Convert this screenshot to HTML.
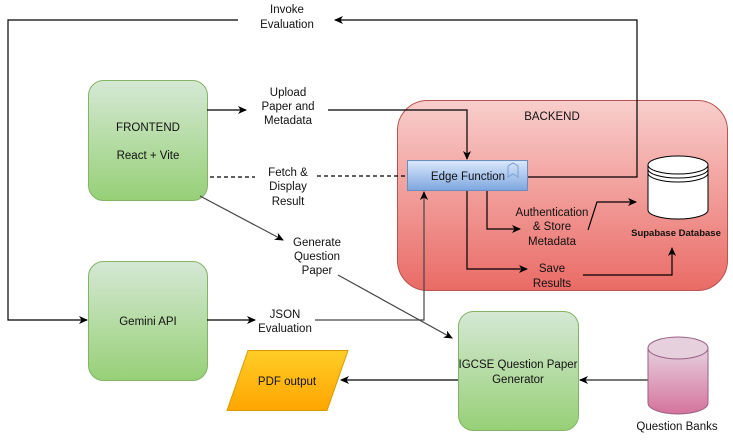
<!DOCTYPE html>
<html><head><meta charset="utf-8"><style>
body{margin:0;background:#fff;}
svg text{font-family:"Liberation Sans",Arial,sans-serif;font-size:11.5px;fill:#111;}
</style></head><body>
<svg width="733" height="440" viewBox="0 0 733 440" xmlns="http://www.w3.org/2000/svg">
<defs>
<linearGradient id="g" x1="0" y1="0" x2="0" y2="1"><stop offset="0" stop-color="#d5e8d4"/><stop offset="1" stop-color="#97d077"/></linearGradient>
<linearGradient id="r" x1="0" y1="0" x2="0" y2="1"><stop offset="0" stop-color="#f8cecc"/><stop offset="1" stop-color="#ea6b66"/></linearGradient>
<linearGradient id="b" x1="0" y1="0" x2="0" y2="1"><stop offset="0" stop-color="#dae8fc"/><stop offset="1" stop-color="#7ea6e0"/></linearGradient>
<linearGradient id="o" x1="0" y1="0" x2="0" y2="1"><stop offset="0" stop-color="#ffcd28"/><stop offset="1" stop-color="#ffa500"/></linearGradient>
<linearGradient id="p" x1="0" y1="0" x2="0" y2="1"><stop offset="0" stop-color="#e6d0de"/><stop offset="1" stop-color="#d5739d"/></linearGradient>
<marker id="a" markerWidth="10" markerHeight="10" refX="8" refY="5" orient="auto" markerUnits="userSpaceOnUse"><path d="M0,1 L9,5 L0,9 L2.5,5 Z" fill="#000"/></marker>
</defs>
<rect x="397.5" y="100.5" width="330" height="190" rx="30" fill="url(#r)" stroke="#b85450"/>
<text x="552" y="120" text-anchor="middle">BACKEND</text>
<rect x="88.5" y="80.5" width="119" height="120" rx="15" fill="url(#g)" stroke="#82b366"/>
<text x="148" y="131" text-anchor="middle">FRONTEND</text>
<text x="148" y="159" text-anchor="middle">React + Vite</text>
<rect x="88.5" y="261.5" width="119" height="119" rx="15" fill="url(#g)" stroke="#82b366"/>
<text x="148" y="325" text-anchor="middle">Gemini API</text>
<rect x="458.5" y="311.5" width="120" height="119" rx="15" fill="url(#g)" stroke="#82b366"/>
<text x="518" y="368" text-anchor="middle">IGCSE Question Paper</text>
<text x="518" y="383" text-anchor="middle">Generator</text>
<polygon points="248,350.5 348,350.5 327,410.5 227,410.5" fill="url(#o)" stroke="#d79b00"/>
<text x="287" y="385" text-anchor="middle">PDF output</text>
<rect x="407.5" y="160.5" width="120" height="30" fill="url(#b)" stroke="#6c8ebf"/>
<text x="468" y="180" text-anchor="middle">Edge Function</text>
<path d="M508,166 l5,-3 l5,3 v11 l-5,-3 l-5,3 z" fill="none" stroke="#7a9fd0"/>
<path d="M648,165 v45 a30,9 0 0 0 60,0 v-45" fill="#fff" stroke="#000"/>
<ellipse cx="678" cy="165" rx="30" ry="9" fill="#fff" stroke="#000"/>
<path d="M648,169 a30,9 0 0 0 60,0 M648,173 a30,9 0 0 0 60,0" fill="none" stroke="#000"/>
<text x="676" y="236" text-anchor="middle" style="font-size:9.5px;font-weight:bold">Supabase Database</text>
<path d="M648,348 v55 a30,11 0 0 0 60,0 v-55" fill="url(#p)" stroke="#996185"/>
<ellipse cx="678" cy="348" rx="30" ry="11" fill="#e6d0de" stroke="#996185"/>
<text x="677" y="430" text-anchor="middle">Question Banks</text>
<g fill="none" stroke="#000" stroke-width="1.2">
<path d="M528,177 H637 V20 H335" marker-end="url(#a)"/>
<path d="M238,20 H8 V320 H87" marker-end="url(#a)"/>
<path d="M207,110 H246" marker-end="url(#a)"/>
<path d="M328,110 H467 V159" marker-end="url(#a)"/>
<path d="M210,177 H255 M317,176 H407" stroke-dasharray="4,3"/>
<path d="M207,320 H255" marker-end="url(#a)"/>
<path d="M315,320 H424 V192" marker-end="url(#a)" stroke="#444"/>
<path d="M200,196 L283,240" marker-end="url(#a)" stroke="#444"/>
<path d="M338,275 L452,338" marker-end="url(#a)" stroke="#444"/>
<path d="M487,191 V229 H520" marker-end="url(#a)"/>
<path d="M467,191 V269 H527" marker-end="url(#a)"/>
<path d="M588,230 L597,202 H636" marker-end="url(#a)"/>
<path d="M583,275 H672 V248" marker-end="url(#a)"/>
<path d="M458,380 H341" marker-end="url(#a)"/>
<path d="M648,380 H580" marker-end="url(#a)" stroke="#777" stroke-width="2"/>
</g>
<g text-anchor="middle">
<text x="287" y="13">Invoke</text><text x="287" y="28">Evaluation</text>
<text x="288" y="96">Upload</text><text x="288" y="110">Paper and</text><text x="288" y="124">Metadata</text>
<text x="288" y="176">Fetch &amp;</text><text x="288" y="190">Display</text><text x="288" y="205">Result</text>
<text x="317" y="246">Generate</text><text x="317" y="260">Question</text><text x="317" y="274">Paper</text>
<text x="285" y="318">JSON</text><text x="285" y="332">Evaluation</text>
<text x="552" y="216">Authentication</text><text x="552" y="230">&amp; Store</text><text x="552" y="245">Metadata</text>
<text x="552" y="272">Save</text><text x="552" y="287">Results</text>
</g>
</svg>
</body></html>
